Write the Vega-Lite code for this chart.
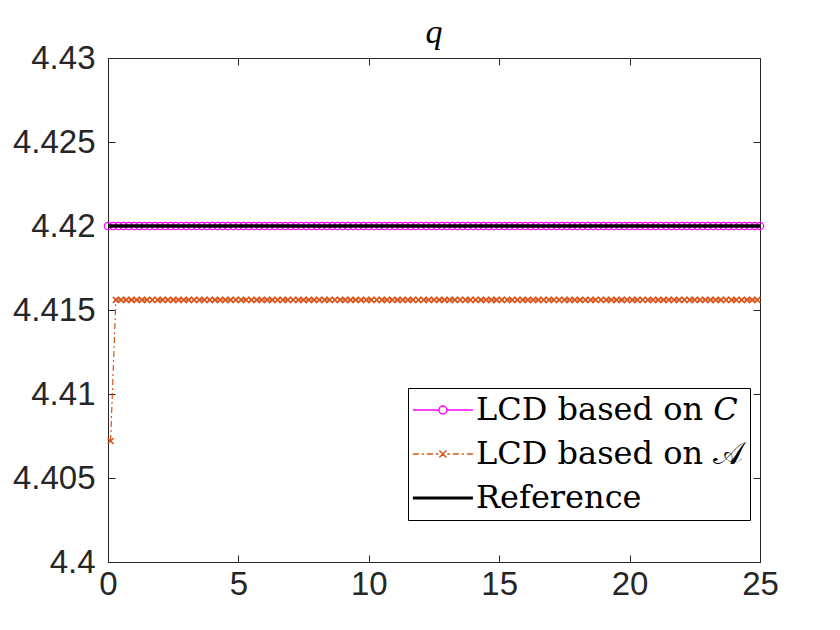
{
"$schema":"https://vega.github.io/schema/vega-lite/v6.json",
"width":652,"height":504,"autosize":"none",
"padding":{"left":108,"top":58,"right":80,"bottom":68},
"background":"white",
"config":{"view":{"stroke":"#262626","strokeWidth":1},"axis":{"grid":false,"domain":false,"tickColor":"#262626","tickSize":-7,"labelColor":"#262626","labelFont":"Liberation Sans","labelFontSize":33,"labelFlush":false}},
"title":{"text":"q","font":"Liberation Serif","fontStyle":"italic","fontWeight":"normal","fontSize":34,"color":"black","offset":-8},
"datasets":{
"c":[{"x":0,"y":4.42},{"x":0.2,"y":4.42},{"x":0.4,"y":4.42},{"x":0.6,"y":4.42},{"x":0.8,"y":4.42},{"x":1,"y":4.42},{"x":1.2,"y":4.42},{"x":1.4,"y":4.42},{"x":1.6,"y":4.42},{"x":1.8,"y":4.42},{"x":2,"y":4.42},{"x":2.2,"y":4.42},{"x":2.4,"y":4.42},{"x":2.6,"y":4.42},{"x":2.8,"y":4.42},{"x":3,"y":4.42},{"x":3.2,"y":4.42},{"x":3.4,"y":4.42},{"x":3.6,"y":4.42},{"x":3.8,"y":4.42},{"x":4,"y":4.42},{"x":4.2,"y":4.42},{"x":4.4,"y":4.42},{"x":4.6,"y":4.42},{"x":4.8,"y":4.42},{"x":5,"y":4.42},{"x":5.2,"y":4.42},{"x":5.4,"y":4.42},{"x":5.6,"y":4.42},{"x":5.8,"y":4.42},{"x":6,"y":4.42},{"x":6.2,"y":4.42},{"x":6.4,"y":4.42},{"x":6.6,"y":4.42},{"x":6.8,"y":4.42},{"x":7,"y":4.42},{"x":7.2,"y":4.42},{"x":7.4,"y":4.42},{"x":7.6,"y":4.42},{"x":7.8,"y":4.42},{"x":8,"y":4.42},{"x":8.2,"y":4.42},{"x":8.4,"y":4.42},{"x":8.6,"y":4.42},{"x":8.8,"y":4.42},{"x":9,"y":4.42},{"x":9.2,"y":4.42},{"x":9.4,"y":4.42},{"x":9.6,"y":4.42},{"x":9.8,"y":4.42},{"x":10,"y":4.42},{"x":10.2,"y":4.42},{"x":10.4,"y":4.42},{"x":10.6,"y":4.42},{"x":10.8,"y":4.42},{"x":11,"y":4.42},{"x":11.2,"y":4.42},{"x":11.4,"y":4.42},{"x":11.6,"y":4.42},{"x":11.8,"y":4.42},{"x":12,"y":4.42},{"x":12.2,"y":4.42},{"x":12.4,"y":4.42},{"x":12.6,"y":4.42},{"x":12.8,"y":4.42},{"x":13,"y":4.42},{"x":13.2,"y":4.42},{"x":13.4,"y":4.42},{"x":13.6,"y":4.42},{"x":13.8,"y":4.42},{"x":14,"y":4.42},{"x":14.2,"y":4.42},{"x":14.4,"y":4.42},{"x":14.6,"y":4.42},{"x":14.8,"y":4.42},{"x":15,"y":4.42},{"x":15.2,"y":4.42},{"x":15.4,"y":4.42},{"x":15.6,"y":4.42},{"x":15.8,"y":4.42},{"x":16,"y":4.42},{"x":16.2,"y":4.42},{"x":16.4,"y":4.42},{"x":16.6,"y":4.42},{"x":16.8,"y":4.42},{"x":17,"y":4.42},{"x":17.2,"y":4.42},{"x":17.4,"y":4.42},{"x":17.6,"y":4.42},{"x":17.8,"y":4.42},{"x":18,"y":4.42},{"x":18.2,"y":4.42},{"x":18.4,"y":4.42},{"x":18.6,"y":4.42},{"x":18.8,"y":4.42},{"x":19,"y":4.42},{"x":19.2,"y":4.42},{"x":19.4,"y":4.42},{"x":19.6,"y":4.42},{"x":19.8,"y":4.42},{"x":20,"y":4.42},{"x":20.2,"y":4.42},{"x":20.4,"y":4.42},{"x":20.6,"y":4.42},{"x":20.8,"y":4.42},{"x":21,"y":4.42},{"x":21.2,"y":4.42},{"x":21.4,"y":4.42},{"x":21.6,"y":4.42},{"x":21.8,"y":4.42},{"x":22,"y":4.42},{"x":22.2,"y":4.42},{"x":22.4,"y":4.42},{"x":22.6,"y":4.42},{"x":22.8,"y":4.42},{"x":23,"y":4.42},{"x":23.2,"y":4.42},{"x":23.4,"y":4.42},{"x":23.6,"y":4.42},{"x":23.8,"y":4.42},{"x":24,"y":4.42},{"x":24.2,"y":4.42},{"x":24.4,"y":4.42},{"x":24.6,"y":4.42},{"x":24.8,"y":4.42},{"x":25,"y":4.42}],
"a":[{"x":0.1,"y":4.4072},{"x":0.3,"y":4.4156},{"x":0.5,"y":4.4156},{"x":0.7,"y":4.4156},{"x":0.9,"y":4.4156},{"x":1.1,"y":4.4156},{"x":1.3,"y":4.4156},{"x":1.5,"y":4.4156},{"x":1.7,"y":4.4156},{"x":1.9,"y":4.4156},{"x":2.1,"y":4.4156},{"x":2.3,"y":4.4156},{"x":2.5,"y":4.4156},{"x":2.7,"y":4.4156},{"x":2.9,"y":4.4156},{"x":3.1,"y":4.4156},{"x":3.3,"y":4.4156},{"x":3.5,"y":4.4156},{"x":3.7,"y":4.4156},{"x":3.9,"y":4.4156},{"x":4.1,"y":4.4156},{"x":4.3,"y":4.4156},{"x":4.5,"y":4.4156},{"x":4.7,"y":4.4156},{"x":4.9,"y":4.4156},{"x":5.1,"y":4.4156},{"x":5.3,"y":4.4156},{"x":5.5,"y":4.4156},{"x":5.7,"y":4.4156},{"x":5.9,"y":4.4156},{"x":6.1,"y":4.4156},{"x":6.3,"y":4.4156},{"x":6.5,"y":4.4156},{"x":6.7,"y":4.4156},{"x":6.9,"y":4.4156},{"x":7.1,"y":4.4156},{"x":7.3,"y":4.4156},{"x":7.5,"y":4.4156},{"x":7.7,"y":4.4156},{"x":7.9,"y":4.4156},{"x":8.1,"y":4.4156},{"x":8.3,"y":4.4156},{"x":8.5,"y":4.4156},{"x":8.7,"y":4.4156},{"x":8.9,"y":4.4156},{"x":9.1,"y":4.4156},{"x":9.3,"y":4.4156},{"x":9.5,"y":4.4156},{"x":9.7,"y":4.4156},{"x":9.9,"y":4.4156},{"x":10.1,"y":4.4156},{"x":10.3,"y":4.4156},{"x":10.5,"y":4.4156},{"x":10.7,"y":4.4156},{"x":10.9,"y":4.4156},{"x":11.1,"y":4.4156},{"x":11.3,"y":4.4156},{"x":11.5,"y":4.4156},{"x":11.7,"y":4.4156},{"x":11.9,"y":4.4156},{"x":12.1,"y":4.4156},{"x":12.3,"y":4.4156},{"x":12.5,"y":4.4156},{"x":12.7,"y":4.4156},{"x":12.9,"y":4.4156},{"x":13.1,"y":4.4156},{"x":13.3,"y":4.4156},{"x":13.5,"y":4.4156},{"x":13.7,"y":4.4156},{"x":13.9,"y":4.4156},{"x":14.1,"y":4.4156},{"x":14.3,"y":4.4156},{"x":14.5,"y":4.4156},{"x":14.7,"y":4.4156},{"x":14.9,"y":4.4156},{"x":15.1,"y":4.4156},{"x":15.3,"y":4.4156},{"x":15.5,"y":4.4156},{"x":15.7,"y":4.4156},{"x":15.9,"y":4.4156},{"x":16.1,"y":4.4156},{"x":16.3,"y":4.4156},{"x":16.5,"y":4.4156},{"x":16.7,"y":4.4156},{"x":16.9,"y":4.4156},{"x":17.1,"y":4.4156},{"x":17.3,"y":4.4156},{"x":17.5,"y":4.4156},{"x":17.7,"y":4.4156},{"x":17.9,"y":4.4156},{"x":18.1,"y":4.4156},{"x":18.3,"y":4.4156},{"x":18.5,"y":4.4156},{"x":18.7,"y":4.4156},{"x":18.9,"y":4.4156},{"x":19.1,"y":4.4156},{"x":19.3,"y":4.4156},{"x":19.5,"y":4.4156},{"x":19.7,"y":4.4156},{"x":19.9,"y":4.4156},{"x":20.1,"y":4.4156},{"x":20.3,"y":4.4156},{"x":20.5,"y":4.4156},{"x":20.7,"y":4.4156},{"x":20.9,"y":4.4156},{"x":21.1,"y":4.4156},{"x":21.3,"y":4.4156},{"x":21.5,"y":4.4156},{"x":21.7,"y":4.4156},{"x":21.9,"y":4.4156},{"x":22.1,"y":4.4156},{"x":22.3,"y":4.4156},{"x":22.5,"y":4.4156},{"x":22.7,"y":4.4156},{"x":22.9,"y":4.4156},{"x":23.1,"y":4.4156},{"x":23.3,"y":4.4156},{"x":23.5,"y":4.4156},{"x":23.7,"y":4.4156},{"x":23.9,"y":4.4156},{"x":24.1,"y":4.4156},{"x":24.3,"y":4.4156},{"x":24.5,"y":4.4156},{"x":24.7,"y":4.4156},{"x":24.9,"y":4.4156}],
"r":[{"x":0,"y":4.42},{"x":25,"y":4.42}]
},
"layer":[
{"layer":[
{"data":{"name":"c"},"mark":{"type":"line","strokeWidth":1},
"encoding":{
"x":{"field":"x","type":"quantitative","scale":{"domain":[0,25],"nice":false,"zero":false},"axis":{"values":[0,5,10,15,20,25],"title":null,"labelPadding":13}},
"y":{"field":"y","type":"quantitative","scale":{"domain":[4.4,4.43],"nice":false,"zero":false},"axis":{"values":[4.4,4.405,4.41,4.415,4.42,4.425,4.43],"format":".3~f","title":null,"labelPadding":20}},
"color":{"datum":"LCD based on 𝐶","type":"nominal","scale":{"domain":["LCD based on 𝐶","LCD based on 𝒜","Reference"],"range":["#FF00FF","#D95319","#000000"]},
"legend":{"title":null,"orient":"none","legendX":300,"legendY":330,"strokeColor":"black","fillColor":"white","padding":6,"symbolSize":3600,"labelFont":"DejaVu Serif","labelFontSize":32,"labelColor":"black","labelOffset":30,"rowPadding":12,"symbolStrokeWidth":1.5,"labelLimit":500,
"encode":{"symbols":{"update":{"shape":{"signal":"datum.index==0?'M-0.57,0H0.297M0.563,0H1.43M0.563,0A0.133,0.133,0,1,1,0.297,0A0.133,0.133,0,1,1,0.563,0':(datum.index==1?'M-0.57,0H-0.37M-0.27,0H-0.203M-0.103,0H0.097M0.197,0H0.28M0.313,-0.117L0.547,0.117M0.313,0.117L0.547,-0.117M0.58,0H0.663M0.763,0H0.963M1.063,0H1.13M1.23,0H1.43':'M-0.57,0H1.43')"},"strokeWidth":{"signal":"datum.index==2?3:1.5"},"fill":{"value":"transparent"}}}}}}}},
{"data":{"name":"c"},"mark":{"type":"point","shape":"circle","filled":false,"size":55,"strokeWidth":1.2,"opacity":1},
"encoding":{"x":{"field":"x","type":"quantitative"},"y":{"field":"y","type":"quantitative"},"color":{"datum":"LCD based on 𝐶","type":"nominal"}}},
{"data":{"name":"a"},"mark":{"type":"line","strokeWidth":1.2,"strokeDash":[6,3,2,3]},
"encoding":{"x":{"field":"x","type":"quantitative"},"y":{"field":"y","type":"quantitative"},"color":{"datum":"LCD based on 𝒜","type":"nominal"}}},
{"data":{"name":"a"},"mark":{"type":"point","shape":"M-1,-1L1,1M-1,1L1,-1","filled":false,"size":36,"strokeWidth":1.6,"opacity":1},
"encoding":{"x":{"field":"x","type":"quantitative"},"y":{"field":"y","type":"quantitative"},"color":{"datum":"LCD based on 𝒜","type":"nominal"}}}
]},
{"data":{"name":"r"},"mark":{"type":"line","strokeWidth":3.5},
"encoding":{
"x":{"field":"x","type":"quantitative","axis":{"orient":"top","labels":false,"values":[0,5,10,15,20,25],"title":null}},
"y":{"field":"y","type":"quantitative","axis":{"orient":"right","labels":false,"values":[4.4,4.405,4.41,4.415,4.42,4.425,4.43],"title":null}},
"color":{"datum":"Reference","type":"nominal"}}}
],
"resolve":{"axis":{"x":"independent","y":"independent"}}
}
